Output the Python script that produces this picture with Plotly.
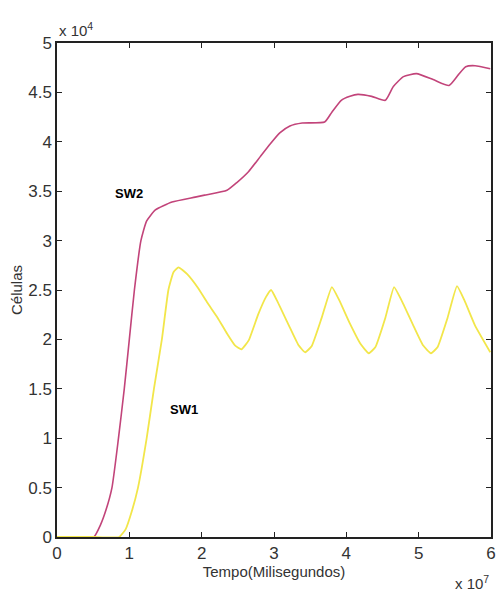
import plotly.graph_objects as go

# Time in units of 1e7 ms, cells in units of 1e4
sw1_x = [0, 0.5, 0.86, 0.95, 1.03, 1.12, 1.24, 1.34, 1.45, 1.54, 1.61, 1.68, 1.80, 1.95, 2.08, 2.22, 2.35, 2.46, 2.55, 2.65, 2.78, 2.89, 2.96,
         3.05, 3.20, 3.34, 3.43, 3.52, 3.66, 3.80, 3.90, 4.05, 4.20, 4.31, 4.40, 4.54, 4.66, 4.76, 4.92, 5.06, 5.17, 5.26, 5.40, 5.53, 5.63, 5.78, 5.99]
sw1_y = [0, 0, 0, 0.08, 0.25, 0.5, 1.0, 1.5, 2.0, 2.5, 2.68, 2.73, 2.66, 2.52, 2.37, 2.22, 2.06, 1.94, 1.90, 1.99, 2.25, 2.43, 2.50,
         2.38, 2.15, 1.94, 1.87, 1.93, 2.22, 2.53, 2.40, 2.16, 1.95, 1.86, 1.92, 2.22, 2.53, 2.40, 2.15, 1.94, 1.86, 1.92, 2.22, 2.54, 2.40, 2.14, 1.87]

sw2_x = [0, 0.4, 0.51, 0.60, 0.68, 0.76, 0.85, 0.93, 1.00, 1.07, 1.16, 1.24, 1.36, 1.59, 1.91, 2.04, 2.35, 2.49, 2.65, 2.81, 2.95, 3.08, 3.22, 3.39,
         3.70, 3.80, 3.93, 4.05, 4.16, 4.35, 4.54, 4.65, 4.79, 4.97, 5.20, 5.42, 5.55, 5.65, 5.78, 5.99]
sw2_y = [0, 0, 0, 0.12, 0.28, 0.5, 1.0, 1.5, 2.0, 2.5, 3.0, 3.2, 3.31, 3.39, 3.44, 3.46, 3.51, 3.59, 3.70, 3.85, 3.98, 4.09, 4.16, 4.19,
         4.20, 4.30, 4.42, 4.46, 4.48, 4.46, 4.42, 4.56, 4.66, 4.69, 4.63, 4.57, 4.68, 4.76, 4.77, 4.74]

x_ticks = [0, 1, 2, 3, 4, 5, 6]
y_ticks = [0, 0.5, 1, 1.5, 2, 2.5, 3, 3.5, 4, 4.5, 5]
y_tick_text = ["0", "0.5", "1", "1.5", "2", "2.5", "3", "3.5", "4", "4.5", "5"]

fig = go.Figure()
fig.add_trace(go.Scatter(x=sw2_x, y=sw2_y, mode="lines", line=dict(color="#c2447a", width=1.6, shape="spline", smoothing=0.5), name="SW2"))
fig.add_trace(go.Scatter(x=sw1_x, y=sw1_y, mode="lines", line=dict(color="#f2e64a", width=1.8, shape="spline", smoothing=0.4), name="SW1"))

fig.add_annotation(x=1.0, y=3.48, text="<b>SW2</b>", showarrow=False, font=dict(size=13, color="black", family="Liberation Sans Narrow, Liberation Sans"))
fig.add_annotation(x=1.75, y=1.29, text="<b>SW1</b>", showarrow=False, font=dict(size=13, color="black", family="Liberation Sans Narrow, Liberation Sans"))

fig.add_annotation(xref="paper", yref="paper", x=0.0, y=1.0, xanchor="left", yanchor="bottom", yshift=2,
                   text="x 10<sup>4</sup>", showarrow=False, font=dict(size=15, color="#333"))
fig.add_annotation(xref="paper", yref="paper", x=1.0, y=0.0, xanchor="right", yanchor="top", yshift=-34,
                   text="x 10<sup>7</sup>", showarrow=False, font=dict(size=15, color="#333"))

axis_common = dict(showline=True, linecolor="#222", linewidth=1.5, mirror="ticks", ticks="inside", ticklen=5,
                   tickcolor="#222", showgrid=False, zeroline=False, automargin=False, ticklabeloverflow="allow",
                   tickfont=dict(size=17, color="#333"))
fig.update_layout(
    width=488, height=587,
    margin=dict(l=49, r=5, t=35, b=58),
    paper_bgcolor="white", plot_bgcolor="white",
    showlegend=False,
    font=dict(family="Liberation Sans, Arial", color="#333"),
    xaxis=dict(range=[0, 6], tickvals=x_ticks, title=dict(text="Tempo(Milisegundos)", font=dict(size=15), standoff=2), **axis_common),
    yaxis=dict(range=[0, 5], tickvals=y_ticks, ticktext=y_tick_text, title=dict(text="Células", font=dict(size=15), standoff=4), **axis_common),
)
fig.write_html("out.html")
